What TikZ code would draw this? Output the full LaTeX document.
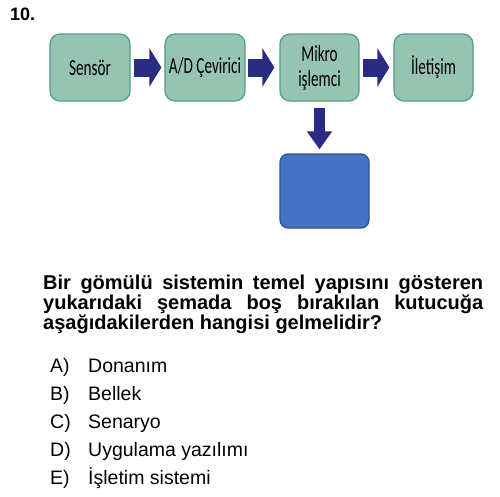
\documentclass[tikz,border=0pt]{standalone}
\usepackage{fontspec}
\setmainfont{Liberation Sans}
\newfontfamily\boxfont[FakeStretch=0.66]{Carlito}
\usetikzlibrary{arrows.meta}
\definecolor{boxgreen}{HTML}{97C3B3}
\definecolor{boxedge}{HTML}{4E9E8C}
\definecolor{emptyblue}{HTML}{4472C4}
\definecolor{emptyedge}{HTML}{2F528F}
\definecolor{navy}{HTML}{2A2C83}
\tikzstyle{block} = [draw=boxedge, fill=boxgreen, line width=1.2pt, rectangle, rounded corners=10pt, minimum height=67pt, minimum width=80pt, inner sep=0pt, align=center, font=\boxfont\fontsize{23}{25}\selectfont]
\tikzstyle{empty} = [draw=emptyedge, fill=emptyblue, line width=1.2pt, rectangle, rounded corners=8pt, minimum height=74pt, minimum width=89pt]
\tikzstyle{flow} = [navy, line width=18pt, -{Triangle[width=38pt,length=12pt]}]
\tikzstyle{drop} = [navy, line width=11pt, -{Triangle[width=24pt,length=18pt]}]
\tikzstyle{question} = [anchor=base west, inner sep=0pt, font=\bfseries\fontsize{20}{20}\selectfont]
\tikzstyle{choice} = [anchor=base west, inner sep=0pt, font=\fontsize{19.5}{20}\selectfont]

\begin{document}
\begin{tikzpicture}[x=1pt,y=-1pt]
    \useasboundingbox (0,0) rectangle (500,496);
    \node [anchor=base west, inner sep=0pt, font=\bfseries\fontsize{18}{18}\selectfont] (num) at (10,20) {10.};

    % diagram
    \node [block] (sensor) at (90,67.5) {Sensör};
    \node [block] (cevirici) at (205,67.5) {A/D Çevirici};
    \node [block, minimum width=79pt] (mikro) at (319.5,67.5) {Mikro\\işlemci};
    \node [block, minimum width=79pt] (iletisim) at (433.5,67.5) {İletişim};
    \node [empty] (bos) at (324.5,191) {};

    \draw [flow, shorten <=3pt, shorten >=3pt] (sensor) -- (cevirici);
    \draw [flow, shorten <=2pt, shorten >=5pt] (cevirici) -- (mikro);
    \draw [flow, shorten <=3pt, shorten >=4pt] (mikro) -- (iletisim);
    \draw [drop, shorten <=6pt, shorten >=4pt] (mikro.south) -- (mikro.south |- bos.north);

    % question
    \node [question] (q1) at (43,289) {\makebox[440pt][s]{Bir gömülü sistemin temel yapısını gösteren}};
    \node [question] (q2) at (43,309) {\makebox[440pt][s]{yukarıdaki şemada boş bırakılan kutucuğa}};
    \node [question] (q3) at (43,329) {aşağıdakilerden hangisi gelmelidir?};

    % choices
    \node [choice] (la) at (50,372) {A)};
    \node [choice] (lb) at (50,400) {B)};
    \node [choice] (lc) at (50,428) {C)};
    \node [choice] (ld) at (50,456) {D)};
    \node [choice] (le) at (50,484) {E)};
    \node [choice] (ca) at (88,372) {Donanım};
    \node [choice] (cb) at (88,400) {Bellek};
    \node [choice] (cc) at (88,428) {Senaryo};
    \node [choice] (cd) at (88,456) {Uygulama yazılımı};
    \node [choice] (ce) at (88,484) {İşletim sistemi};
\end{tikzpicture}
\end{document}
